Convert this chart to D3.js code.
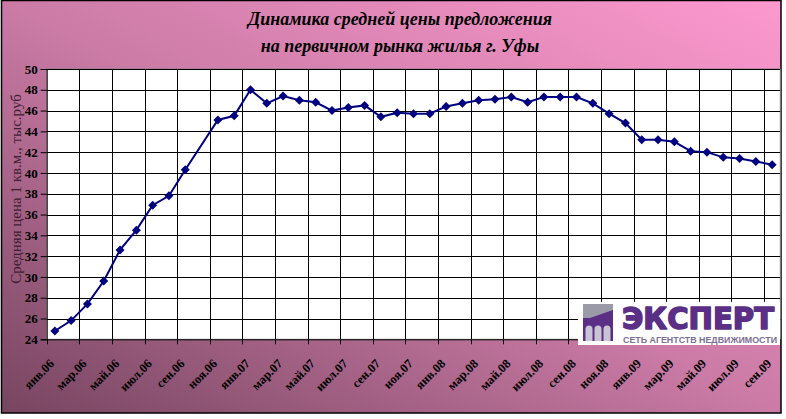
<!DOCTYPE html>
<html><head><meta charset="utf-8">
<script src="https://cdn.jsdelivr.net/npm/d3@7"></script>
<style>html,body{margin:0;padding:0;background:#fff;}svg{display:block;}</style>
</head><body>
<script>
const titleLines = ["Динамика средней цены предложения", "на первичном рынка жилья г. Уфы"];
const yTitle = "Средняя цена 1 кв.м., тыс.руб";
const categories = [
 "янв.06","фев.06","мар.06","апр.06","май.06","июн.06","июл.06","авг.06","сен.06","окт.06","ноя.06","дек.06",
 "янв.07","фев.07","мар.07","апр.07","май.07","июн.07","июл.07","авг.07","сен.07","окт.07","ноя.07","дек.07",
 "янв.08","фев.08","мар.08","апр.08","май.08","июн.08","июл.08","авг.08","сен.08","окт.08","ноя.08","дек.08",
 "янв.09","фев.09","мар.09","апр.09","май.09","июн.09","июл.09","авг.09","сен.09"];
const values = [24.8,25.8,27.4,29.6,32.6,34.5,36.9,37.8,40.3,null,45.1,45.5,
 48.0,46.7,47.4,47.0,46.8,46.0,46.3,46.5,45.4,45.8,45.7,45.7,
 46.4,46.7,47.0,47.1,47.3,46.8,47.3,47.3,47.3,46.7,45.7,44.8,
 43.2,43.2,43.0,42.1,42.0,41.5,41.4,41.1,40.8];
const yTicks = [24,26,28,30,32,34,36,38,40,42,44,46,48,50];
const logoName = "ЭКСПЕРТ";
const logoSub = "СЕТЬ АГЕНТСТВ НЕДВИЖИМОСТИ";

const W = 786, H = 419;
const svg = d3.select("body").append("svg").attr("width", W).attr("height", H);
const defs = svg.append("defs");
const grad = defs.append("linearGradient").attr("id","bg").attr("x1",0).attr("y1",1).attr("x2",1).attr("y2",0);
grad.append("stop").attr("offset","0").attr("stop-color","#774560");
grad.append("stop").attr("offset","0.5").attr("stop-color","#cb7ba6");
grad.append("stop").attr("offset","1").attr("stop-color","#fd99cf");

svg.append("rect").attr("x",1.5).attr("y",0.5).attr("width",779.5).attr("height",412.5)
  .attr("fill","url(#bg)").attr("stroke","#000").attr("stroke-width",1.5);

const pL = 46.7, pR = 780.3, pT = 69, pB = 339.3;
const x = d3.scaleBand().domain(categories).range([pL, pR]).padding(0);
const y = d3.scaleLinear().domain([24, 50]).range([pB, pT]);

// plot area
svg.append("rect").attr("x",pL).attr("y",pT).attr("width",pR-pL).attr("height",pB-pT)
  .attr("fill","#fff").attr("stroke","#808080").attr("stroke-width",1);

// horizontal grid
svg.append("g").selectAll("line").data(yTicks.filter(d=>d>24)).join("line")
  .attr("x1",pL).attr("x2",pR).attr("y1",d=>Math.round(y(d))+0.5).attr("y2",d=>Math.round(y(d))+0.5)
  .attr("stroke","#000").attr("stroke-width",1);
// vertical grid (every 2 categories)
const vIdx = d3.range(2, categories.length, 2);
svg.append("g").selectAll("line").data(vIdx).join("line")
  .attr("x1",i=>Math.round(x(categories[i]))+0.5).attr("x2",i=>Math.round(x(categories[i]))+0.5)
  .attr("y1",pT).attr("y2",pB).attr("stroke","#000").attr("stroke-width",1);

// y axis
const yAxis = d3.axisLeft(y).tickValues(yTicks).tickSize(6).tickPadding(3).tickFormat(d3.format("d"));
const gy = svg.append("g").attr("transform",`translate(${pL},0)`).call(yAxis);
gy.select(".domain").attr("stroke","#000");
gy.selectAll(".tick line").attr("stroke","#000");
gy.selectAll("text").attr("font-family","'Liberation Serif','Times New Roman',serif")
  .attr("font-weight","bold").attr("font-size",13).attr("fill","#000");

// x axis
const xAxis = d3.axisBottom(x).tickValues([]).tickSizeOuter(0);
const gx = svg.append("g").attr("transform",`translate(0,${pB})`).call(xAxis);
gx.select(".domain").attr("stroke","#000");
gx.selectAll("line.xt").data(d3.range(0, categories.length+1, 2)).join("line").attr("class","xt")
  .attr("x1",i=>Math.round(i<categories.length ? x(categories[i]) : pR)+0.5)
  .attr("x2",i=>Math.round(i<categories.length ? x(categories[i]) : pR)+0.5)
  .attr("y1",0).attr("y2",5).attr("stroke","#000");
gx.selectAll("text.xl").data(d3.range(0, categories.length, 2)).join("text").attr("class","xl")
  .attr("transform",i=>`translate(${x(categories[i]) + x.bandwidth()/2 - 3},${22}) rotate(-45)`)
  .attr("text-anchor","end").attr("dy","0.35em")
  .attr("font-family","'Liberation Serif','Times New Roman',serif").attr("font-weight","bold")
  .attr("font-size",12.5).attr("fill","#000").text(i=>categories[i]);

// line
const pts = values.map((v,i)=>({c:categories[i], v})).filter(d=>d.v!=null);
const line = d3.line().x(d=>x(d.c)+x.bandwidth()/2).y(d=>y(d.v));
svg.append("path").datum(pts).attr("d",line).attr("fill","none").attr("stroke","#000080").attr("stroke-width",2);
svg.append("g").selectAll("path").data(pts).join("path")
  .attr("transform",d=>`translate(${x(d.c)+x.bandwidth()/2},${y(d.v)})`)
  .attr("d","M0,-4.5L4.5,0L0,4.5L-4.5,0Z").attr("fill","#000080");

// titles
svg.append("g").selectAll("text").data(titleLines).join("text")
  .attr("x",400).attr("y",(d,i)=>25+i*27).attr("text-anchor","middle")
  .attr("font-family","'Liberation Serif','Times New Roman',serif").attr("font-style","italic")
  .attr("font-weight","bold").attr("font-size",18).attr("fill","#000").text(d=>d);

// y title
svg.append("text").attr("transform","translate(21,189) rotate(-90)").attr("text-anchor","middle")
  .attr("font-family","'Liberation Serif','Times New Roman',serif").attr("font-size",15)
  .attr("fill","#3f1d32").text(yTitle);

// logo
const lg = svg.append("g");
lg.append("rect").attr("x",578).attr("y",302).attr("width",202).attr("height",43).attr("fill","#fff");
lg.append("rect").attr("x",583).attr("y",304).attr("width",30).attr("height",37).attr("fill","#5b2f86");
lg.append("path").attr("d","M583,304L613,304L613,310L590,318L583,318Z").attr("fill","#9a9aa8");
[0,1,2].forEach(k=>{
  const cx = 589 + k*9;
  lg.append("path").attr("d",`M${cx-3.5},341L${cx-3.5},329A3.5,3.5 0 0 1 ${cx+3.5},329L${cx+3.5},341Z`).attr("fill","#c8c4d4");
});
lg.append("text").attr("x",622).attr("y",329).attr("textLength",152).attr("lengthAdjust","spacingAndGlyphs")
  .attr("font-family","'DejaVu Sans','Liberation Sans',sans-serif").attr("font-weight","bold")
  .attr("font-size",30).attr("fill","#5b2f86").attr("stroke","#5b2f86").attr("stroke-width",1.6)
  .attr("stroke-linejoin","round").text(logoName);
lg.append("text").attr("x",623).attr("y",343).attr("textLength",154).attr("lengthAdjust","spacingAndGlyphs")
  .attr("font-family","'Liberation Sans',sans-serif").attr("font-size",8.5).attr("font-weight","bold")
  .attr("fill","#7d6f92").text(logoSub);
</script>
</body></html>
